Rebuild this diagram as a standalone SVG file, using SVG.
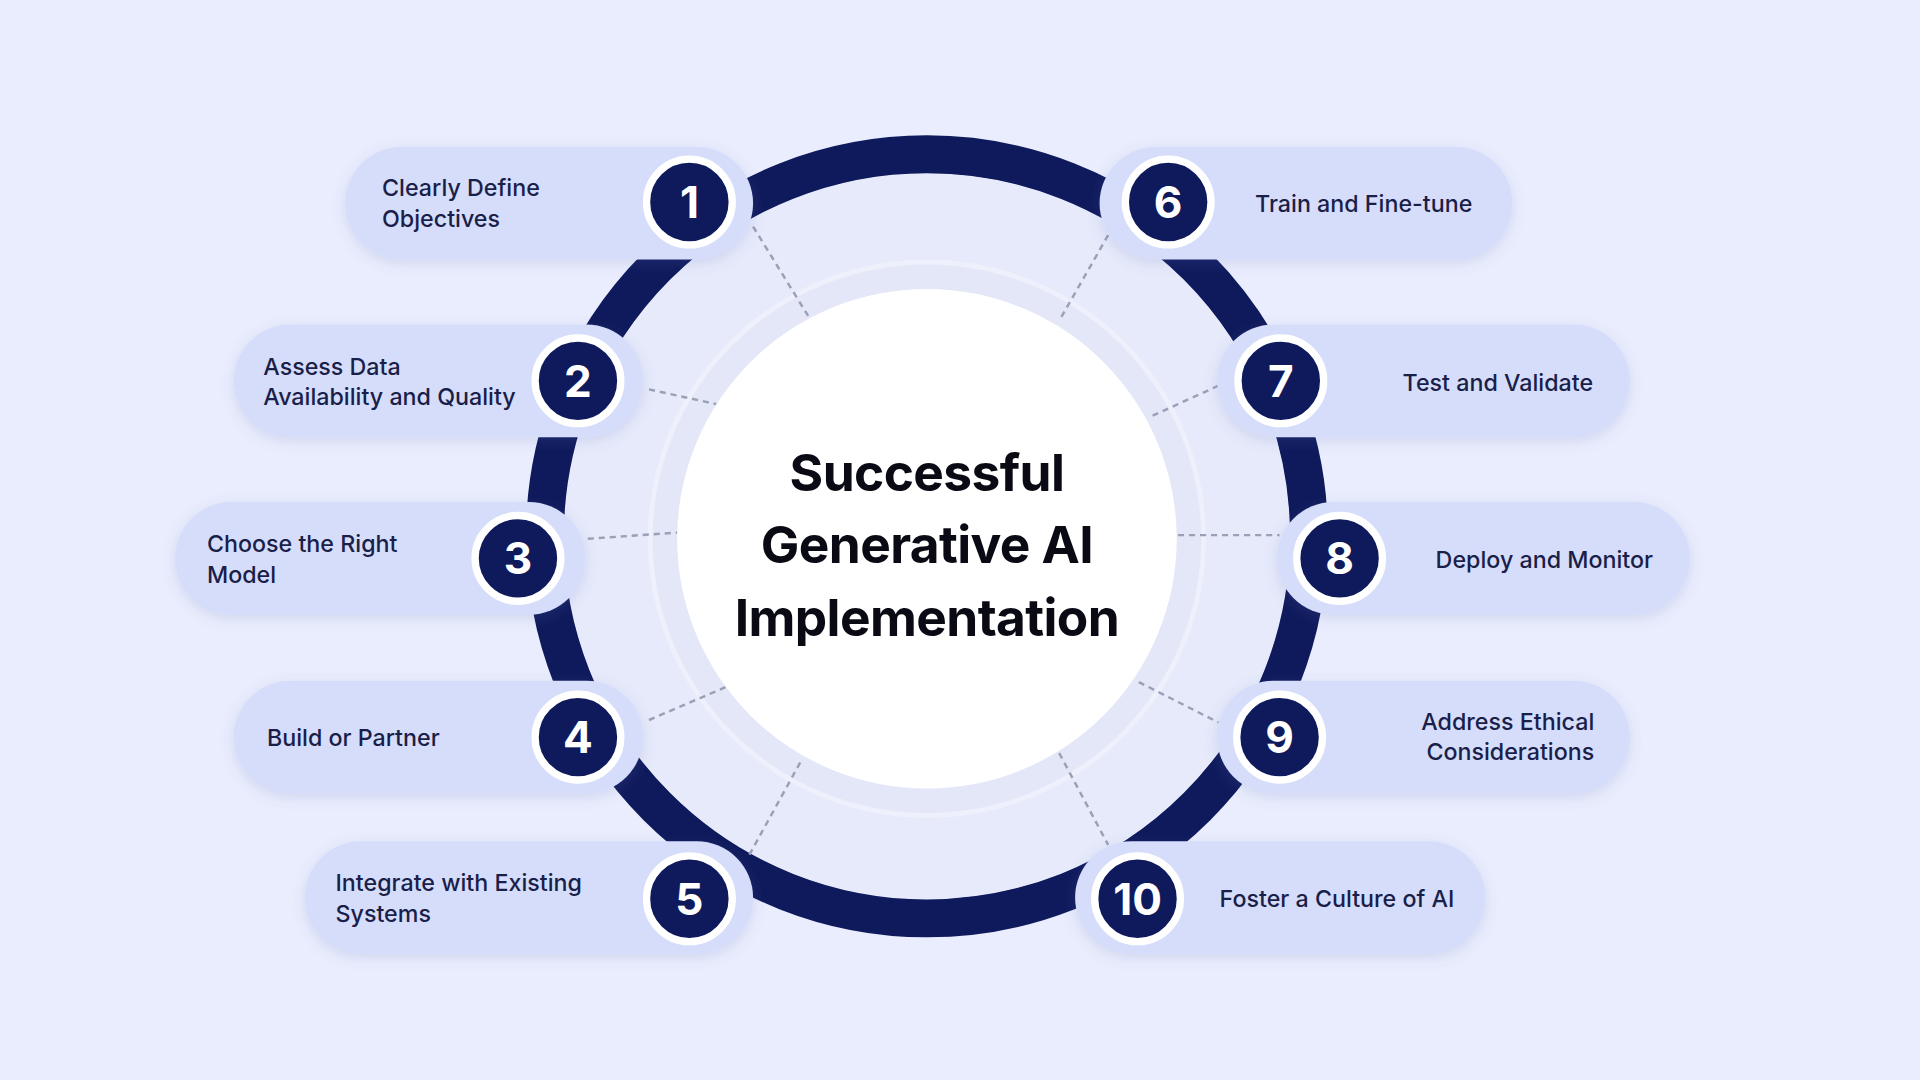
<svg xmlns="http://www.w3.org/2000/svg" width="1920" height="1080" viewBox="0 0 1920 1080">
<defs>
<filter id="sh" x="-20%" y="-30%" width="140%" height="160%"><feDropShadow dx="0" dy="3" stdDeviation="5" flood-color="#6070b0" flood-opacity="0.18"/></filter>
<style>
.pill{fill:#d6ddfb;filter:url(#sh)}
.num{fill:#0f1a5c;stroke:#fff;stroke-width:6}
.nt{font-family:Inter,"Liberation Sans",sans-serif;font-weight:700;font-size:36px;fill:#fff;text-anchor:middle}
.lb{font-family:Inter,"Liberation Sans",sans-serif;font-weight:500;font-size:19px;fill:#1a1f4a}
.ti{font-family:Inter,"Liberation Sans",sans-serif;font-weight:700;font-size:42px;fill:#0a0a14;text-anchor:middle;letter-spacing:-0.5px}
.dl{stroke:#9aa0b5;stroke-width:2;stroke-dasharray:5 4}
</style>
</defs>
<rect width="1920" height="1080" fill="#e9edfd"/>
<g transform="scale(1.22449)">
<circle cx="757" cy="438" r="312" fill="none" stroke="#0f1a5c" stroke-width="31"/>
<circle cx="757" cy="438" r="296" fill="#e6eafb"/>
<circle cx="757" cy="440" r="226" fill="#e3e7f8" stroke="#eef0fb" stroke-width="4"/>
<g id="connectors">
<line class="dl" x1="615" y1="185" x2="660" y2="258"/>
<line class="dl" x1="530" y1="318" x2="585" y2="330"/>
<line class="dl" x1="480" y1="440" x2="553" y2="435"/>
<line class="dl" x1="530" y1="588" x2="593" y2="561"/>
<line class="dl" x1="612" y1="698" x2="655" y2="620"/>
<line class="dl" x1="905" y1="192" x2="865" y2="262"/>
<line class="dl" x1="995" y1="315" x2="938" y2="341"/>
<line class="dl" x1="962" y1="437" x2="1045" y2="437"/>
<line class="dl" x1="930" y1="557" x2="995" y2="590"/>
<line class="dl" x1="865" y1="615" x2="905" y2="690"/>
</g>
<g id="center">
<circle cx="757" cy="440" r="204" fill="#fff"/>
<text class="ti" x="757" y="401">Successful</text>
<text class="ti" x="757" y="460">Generative AI</text>
<text class="ti" x="757" y="519">Implementation</text>
</g>
<g id="n1"><rect class="pill" x="282" y="120" width="333" height="92" rx="46"/><circle class="num" cx="563" cy="165" r="35"/><text class="nt" x="563" y="178">1</text><text class="lb" x="312" y="160">Clearly Define</text><text class="lb" x="312" y="185">Objectives</text></g>
<g id="n2"><rect class="pill" x="191" y="265" width="334" height="92" rx="46"/><circle class="num" cx="472" cy="311" r="35"/><text class="nt" x="472" y="324">2</text><text class="lb" x="215" y="306">Assess Data</text><text class="lb" x="215" y="331">Availability and Quality</text></g>
<g id="n3"><rect class="pill" x="143" y="410" width="335" height="92" rx="46"/><circle class="num" cx="423" cy="456" r="35"/><text class="nt" x="423" y="469">3</text><text class="lb" x="169" y="451">Choose the Right</text><text class="lb" x="169" y="476">Model</text></g>
<g id="n4"><rect class="pill" x="191" y="556" width="334" height="92" rx="46"/><circle class="num" cx="472" cy="602" r="35"/><text class="nt" x="472" y="615">4</text><text class="lb" x="218" y="609">Build or Partner</text></g>
<g id="n5"><rect class="pill" x="249" y="687" width="366" height="92" rx="46"/><circle class="num" cx="563" cy="734" r="35"/><text class="nt" x="563" y="747">5</text><text class="lb" x="274" y="728">Integrate with Existing</text><text class="lb" x="274" y="753">Systems</text></g>
<g id="n6"><rect class="pill" x="898" y="120" width="337" height="92" rx="46"/><circle class="num" cx="954" cy="165" r="35"/><text class="nt" x="954" y="178">6</text><text class="lb" x="1025" y="173">Train and Fine-tune</text></g>
<g id="n7"><rect class="pill" x="994" y="265" width="337" height="92" rx="46"/><circle class="num" cx="1046" cy="311" r="35"/><text class="nt" x="1046" y="324">7</text><text class="lb" x="1301" y="319" text-anchor="end">Test and Validate</text></g>
<g id="n8"><rect class="pill" x="1043" y="410" width="337" height="92" rx="46"/><circle class="num" cx="1094" cy="456" r="35"/><text class="nt" x="1094" y="469">8</text><text class="lb" x="1350" y="464" text-anchor="end">Deploy and Monitor</text></g>
<g id="n9"><rect class="pill" x="994" y="556" width="337" height="92" rx="46"/><circle class="num" cx="1045" cy="602" r="35"/><text class="nt" x="1045" y="615">9</text><text class="lb" x="1302" y="596" text-anchor="end">Address Ethical</text><text class="lb" x="1302" y="621" text-anchor="end">Considerations</text></g>
<g id="n10"><rect class="pill" x="878" y="687" width="335" height="92" rx="46"/><circle class="num" cx="929" cy="734" r="35"/><text class="nt" x="929" y="747">10</text><text class="lb" x="996" y="741">Foster a Culture of AI</text></g>
</g>
</svg>
